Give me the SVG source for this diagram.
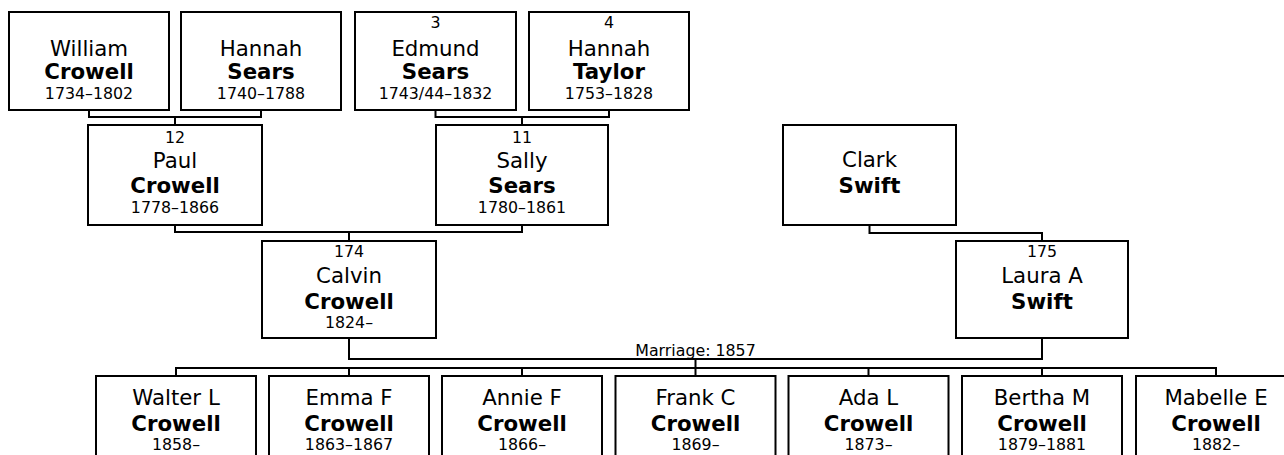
<svg xmlns="http://www.w3.org/2000/svg" width="1284" height="455" viewBox="0 0 1284 455">
<style>
.box{fill:#fff;stroke:#000;stroke-width:2}
.ln{fill:none;stroke:#000;stroke-width:2}
text{font-family:"DejaVu Sans",Verdana,sans-serif;text-anchor:middle;fill:#000}
.g{font-size:21.3px}
.s{font-size:21.3px;font-weight:bold}
.y{font-size:15.8px}
</style>
<rect width="1284" height="455" fill="#fff"/>
<g id="connectors">
<path class="ln" d="M89 110V117H261V110M175 117V125"/>
<path class="ln" d="M435.5 110V117H609V110M522 117V125"/>
<path class="ln" d="M175 225V232H522V225M349 232V241"/>
<path class="ln" d="M869.5 225V233H1042V241"/>
<path class="ln" d="M349 338V359H1042V338M695.5 359V376"/>
<path class="ln" d="M176 376V368H1216V376M349 368V376M522 368V376M868.5 368V376M1042 368V376"/>
<text class="y" x="695.5" y="356">Marriage: 1857</text>
</g>
<g id="william">
<rect class="box" x="9" y="12" width="160" height="98"/>
<text class="g" x="89" y="55.7">William</text>
<text class="s" x="89" y="79">Crowell</text>
<text class="y" x="89" y="99.3">1734–1802</text>
</g>
<g id="hannah-sears">
<rect class="box" x="181" y="12" width="160" height="98"/>
<text class="g" x="261" y="55.7">Hannah</text>
<text class="s" x="261" y="79">Sears</text>
<text class="y" x="261" y="99.3">1740–1788</text>
</g>
<g id="edmund">
<rect class="box" x="355" y="12" width="161" height="98"/>
<text class="y" x="435.5" y="28.3">3</text>
<text class="g" x="435.5" y="55.7">Edmund</text>
<text class="s" x="435.5" y="79">Sears</text>
<text class="y" x="435.5" y="99.3">1743/44–1832</text>
</g>
<g id="hannah-taylor">
<rect class="box" x="529" y="12" width="160" height="98"/>
<text class="y" x="609" y="28.3">4</text>
<text class="g" x="609" y="55.7">Hannah</text>
<text class="s" x="609" y="79">Taylor</text>
<text class="y" x="609" y="99.3">1753–1828</text>
</g>
<g id="paul">
<rect class="box" x="88" y="125" width="174" height="100"/>
<text class="y" x="175" y="142.7">12</text>
<text class="g" x="175" y="168.3">Paul</text>
<text class="s" x="175" y="193.3">Crowell</text>
<text class="y" x="175" y="213.3">1778–1866</text>
</g>
<g id="sally">
<rect class="box" x="436" y="125" width="172" height="100"/>
<text class="y" x="522" y="142.7">11</text>
<text class="g" x="522" y="168.3">Sally</text>
<text class="s" x="522" y="193.3">Sears</text>
<text class="y" x="522" y="213.3">1780–1861</text>
</g>
<g id="clark">
<rect class="box" x="783" y="125" width="173" height="100"/>
<text class="g" x="869.5" y="167.3">Clark</text>
<text class="s" x="869.5" y="193.3">Swift</text>
</g>
<g id="calvin">
<rect class="box" x="262" y="241" width="174" height="97"/>
<text class="y" x="349" y="256.7">174</text>
<text class="g" x="349" y="283.3">Calvin</text>
<text class="s" x="349" y="309">Crowell</text>
<text class="y" x="349" y="328.3">1824–</text>
</g>
<g id="laura">
<rect class="box" x="956" y="241" width="172" height="97"/>
<text class="y" x="1042" y="256.7">175</text>
<text class="g" x="1042" y="283.3">Laura A</text>
<text class="s" x="1042" y="309">Swift</text>
</g>
<g id="walter">
<rect class="box" x="96" y="376" width="160" height="100"/>
<text class="g" x="176" y="405">Walter L</text>
<text class="s" x="176" y="431">Crowell</text>
<text class="y" x="176" y="450">1858–</text>
</g>
<g id="emma">
<rect class="box" x="269" y="376" width="160" height="100"/>
<text class="g" x="349" y="405">Emma F</text>
<text class="s" x="349" y="431">Crowell</text>
<text class="y" x="349" y="450">1863–1867</text>
</g>
<g id="annie">
<rect class="box" x="442" y="376" width="160" height="100"/>
<text class="g" x="522" y="405">Annie F</text>
<text class="s" x="522" y="431">Crowell</text>
<text class="y" x="522" y="450">1866–</text>
</g>
<g id="frank">
<rect class="box" x="615.5" y="376" width="160" height="100"/>
<text class="g" x="695.5" y="405">Frank C</text>
<text class="s" x="695.5" y="431">Crowell</text>
<text class="y" x="695.5" y="450">1869–</text>
</g>
<g id="ada">
<rect class="box" x="788.5" y="376" width="160" height="100"/>
<text class="g" x="868.5" y="405">Ada L</text>
<text class="s" x="868.5" y="431">Crowell</text>
<text class="y" x="868.5" y="450">1873–</text>
</g>
<g id="bertha">
<rect class="box" x="962" y="376" width="160" height="100"/>
<text class="g" x="1042" y="405">Bertha M</text>
<text class="s" x="1042" y="431">Crowell</text>
<text class="y" x="1042" y="450">1879–1881</text>
</g>
<g id="mabelle">
<rect class="box" x="1136" y="376" width="160" height="100"/>
<text class="g" x="1216" y="405">Mabelle E</text>
<text class="s" x="1216" y="431">Crowell</text>
<text class="y" x="1216" y="450">1882–</text>
</g>
</svg>
